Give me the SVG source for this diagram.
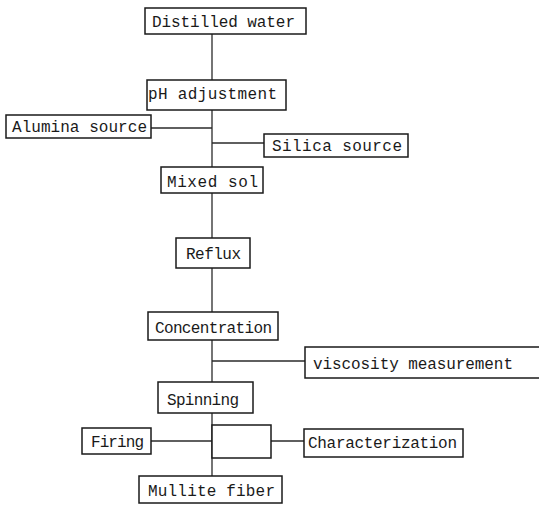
<svg xmlns="http://www.w3.org/2000/svg" width="539" height="505" viewBox="0 0 539 505">
<style>
.box{fill:#fff;stroke:#1a1a1a;stroke-width:1.5}
.lbl{font-family:"Liberation Mono","Courier New",monospace;font-size:16px;fill:#1a1a1a}
.ln{stroke:#2a2a2a;stroke-width:1.3;fill:none}
</style>
<rect width="539" height="505" fill="#fff"/>
<g id="connectors">
<line class="ln" x1="212" y1="34" x2="212" y2="80"/>
<line class="ln" x1="212" y1="110" x2="212" y2="167"/>
<line class="ln" x1="151" y1="128" x2="212" y2="128"/>
<line class="ln" x1="212" y1="143" x2="264" y2="143"/>
<line class="ln" x1="212" y1="193" x2="212" y2="238"/>
<line class="ln" x1="212" y1="268" x2="212" y2="312"/>
<line class="ln" x1="212" y1="340" x2="212" y2="382"/>
<line class="ln" x1="212" y1="361" x2="305" y2="361"/>
<line class="ln" x1="212" y1="413" x2="212" y2="476"/>
<line class="ln" x1="151" y1="441" x2="212" y2="441"/>
<line class="ln" x1="271" y1="441" x2="304" y2="441"/>
</g>
<g id="distilled-water"><rect class="box" x="145" y="8" width="161" height="26"/><text class="lbl" x="152" y="27" textLength="143" lengthAdjust="spacing">Distilled water</text></g>
<g id="ph-adjustment"><rect class="box" x="147" y="80" width="139" height="30"/><text class="lbl" x="148" y="99" textLength="129" lengthAdjust="spacing">pH adjustment</text></g>
<g id="alumina-source"><rect class="box" x="6" y="115" width="145" height="23"/><text class="lbl" x="12" y="132" textLength="135" lengthAdjust="spacing">Alumina source</text></g>
<g id="silica-source"><rect class="box" x="264" y="134" width="144" height="23"/><text class="lbl" x="272" y="151" textLength="130" lengthAdjust="spacing">Silica source</text></g>
<g id="mixed-sol"><rect class="box" x="161" y="167" width="102" height="26"/><text class="lbl" x="167" y="187" textLength="91" lengthAdjust="spacing">Mixed sol</text></g>
<g id="reflux"><rect class="box" x="176" y="238" width="74" height="30"/><text class="lbl" x="186" y="259" textLength="55" lengthAdjust="spacing">Reflux</text></g>
<g id="concentration"><rect class="box" x="148" y="312" width="130" height="28"/><text class="lbl" x="155" y="333" textLength="117" lengthAdjust="spacing">Concentration</text></g>
<g id="viscosity-measurement"><rect class="box" x="305" y="347" width="236" height="31"/><text class="lbl" x="313" y="369" textLength="200" lengthAdjust="spacing">viscosity measurement</text></g>
<g id="spinning"><rect class="box" x="158" y="382" width="95" height="31"/><text class="lbl" x="167" y="405" textLength="72" lengthAdjust="spacing">Spinning</text></g>
<g id="blank-box"><rect class="box" x="212" y="425" width="59" height="33"/></g>
<g id="firing"><rect class="box" x="82" y="428" width="69" height="26"/><text class="lbl" x="91" y="447" textLength="53" lengthAdjust="spacing">Firing</text></g>
<g id="characterization"><rect class="box" x="304" y="429" width="159" height="28"/><text class="lbl" x="308" y="448" textLength="149" lengthAdjust="spacing">Characterization</text></g>
<g id="mullite-fiber"><rect class="box" x="139" y="476" width="143" height="27"/><text class="lbl" x="148" y="496" textLength="127" lengthAdjust="spacing">Mullite fiber</text></g>
</svg>
